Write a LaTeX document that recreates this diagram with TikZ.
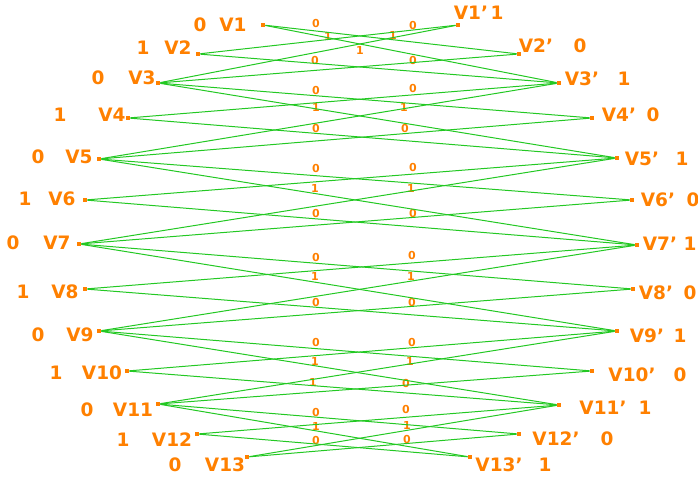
\documentclass[tikz,border=0pt]{standalone}
\usepackage{fontspec}
\setmainfont{DejaVu Sans}
\definecolor{org}{RGB}{255,128,0}
\definecolor{grn}{RGB}{35,200,35}
\begin{document}
\begin{tikzpicture}[x=1pt,y=-1pt,
 dot/.style={rectangle,fill=org,inner sep=0pt,minimum size=4.5pt},
 vlab/.style={text=org,font=\fontsize{18.5}{18.5}\selectfont\bfseries,inner sep=0pt},
 elab/.style={text=org,font=\fontsize{11}{11}\selectfont\bfseries,inner sep=0pt},
 edge/.style={draw=grn,line width=1pt}]
\useasboundingbox (0,0) rectangle (698,477);
% edge value labels
\foreach \x/\y/\t [count=\k] in {316/23/0,328/36/1,360/50/1,315/60/0,316/90/0,316/107/1,316/128/0,316/168/0,315/188/1,316/213/0,316/257/0,315/276/1,316/302/0,316/342/0,315/361/1,313/382/1,316/412/0,316/426/1,316/440/0,
 413/25/0,393/35/1,413/60/0,413/88/0,404/107/1,405/128/0,413/167/0,411/188/1,413/213/0,412/255/0,411/276/1,412/302/0,412/342/0,410/361/1,406/383/0,406/409/0,407/425/1,407/439/0}
  \node[elab] (e\k) at (\x,\y) {\t};
% left vertices
\foreach \i/\dx/\dy/\lx/\ly/\vx/\v in {1/263/25/233/25/200/0,2/198/54/178/48/143/1,3/158/83/142/78/98/0,4/128/118/112/115/60/1,5/99/159/79/157/38/0,6/85/200/62/199/25/1,7/79/244/57/243/13/0,8/85/289/65/292/23/1,9/99/331/80/335/38/0,10/127/371/102/373/56/1,11/158/404/133/410/87/0,12/197/434/172/440/123/1,13/247/457/225/465/175/0}{
  \node[dot] (L\i) at (\dx,\dy) {};
  \node[vlab] (Ln\i) at (\lx,\ly) {V\i};
  \node[vlab] (Lv\i) at (\vx,\ly) {\v};
}
% right vertices
\foreach \i/\dx/\dy/\lx/\ly/\vx/\v in {1/458/25/471/13/497/1,2/519/54/536/46/580/0,3/559/83/582/79/624/1,4/592/118/619/115/653/0,5/617/158/642/159/682/1,6/632/200/658/200/693/0,7/637/245/660/244/690/1,8/633/289/656/293/690/0,9/617/331/647/336/680/1,10/592/371/632/375/680/0,11/559/405/603/408/645/1,12/519/434/556/439/607/0,13/470/457/499/465/545/1}{
  \node[dot] (R\i) at (\dx,\dy) {};
  \node[vlab] (Rn\i) at (\lx,\ly) {V\i\char"27};
  \node[vlab] (Rv\i) at (\vx,\ly) {\v};
}
% edges: Vi -- V(i+-1)'
\foreach \i in {1,...,13}{
  \foreach \d in {-1,1}{
    \pgfmathtruncatemacro\j{\i+\d}
    \ifnum\j>0 \ifnum\j<14 \draw[edge] (L\i) -- (R\j); \fi\fi
  }
}
% edges: odd Vi -- V(i+-2)'
\foreach \i in {1,3,...,13}{
  \foreach \d in {-2,2}{
    \pgfmathtruncatemacro\j{\i+\d}
    \ifnum\j>0 \ifnum\j<14 \draw[edge] (L\i) -- (R\j); \fi\fi
  }
}
\end{tikzpicture}
\end{document}
